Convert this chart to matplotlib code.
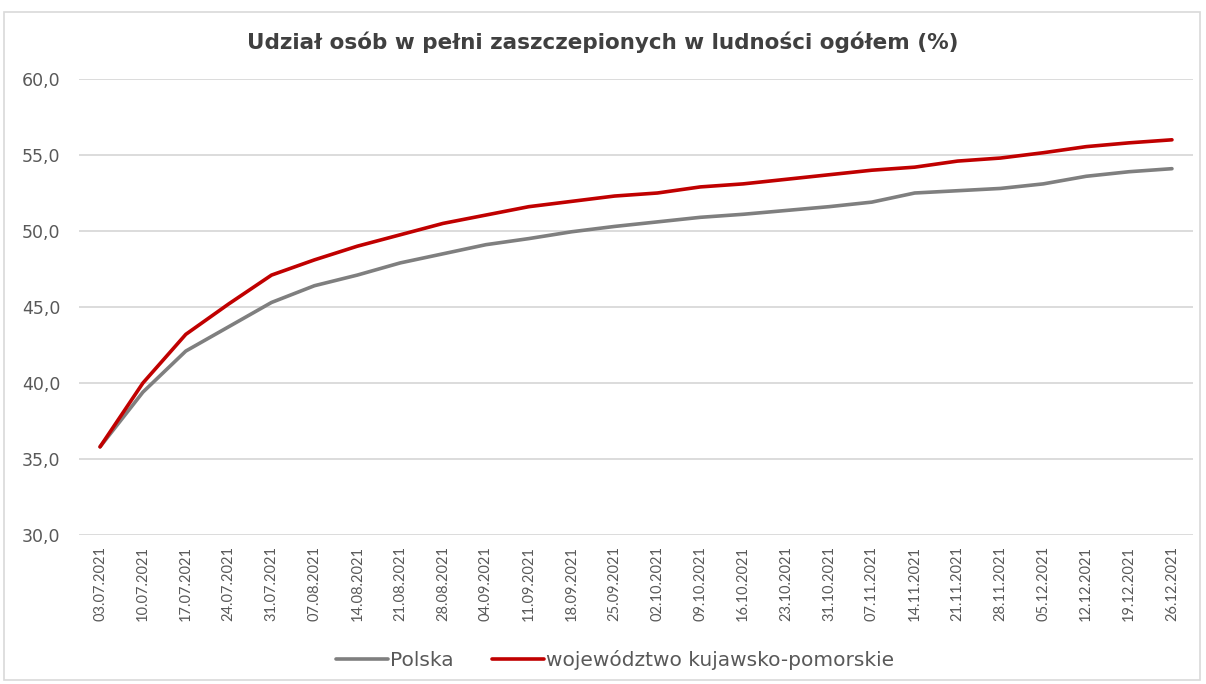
import numpy as np
import matplotlib
matplotlib.use('Agg')
import matplotlib.pyplot as plt
from matplotlib.patches import Rectangle

dates = ['03.07.2021', '10.07.2021', '17.07.2021', '24.07.2021', '31.07.2021',
         '07.08.2021', '14.08.2021', '21.08.2021', '28.08.2021', '04.09.2021',
         '11.09.2021', '18.09.2021', '25.09.2021', '02.10.2021', '09.10.2021',
         '16.10.2021', '23.10.2021', '31.10.2021', '07.11.2021', '14.11.2021',
         '21.11.2021', '28.11.2021', '05.12.2021', '12.12.2021', '19.12.2021',
         '26.12.2021']
polska = [35.8, 39.4, 42.1, 43.7, 45.3, 46.4, 47.1, 47.9, 48.5, 49.1,
          49.5, 49.95, 50.3, 50.6, 50.9, 51.1, 51.35, 51.6, 51.9, 52.5,
          52.65, 52.8, 53.1, 53.6, 53.9, 54.1]
kuj_pom = [35.8, 40.0, 43.2, 45.2, 47.1, 48.1, 49.0, 49.75, 50.5, 51.05,
           51.6, 51.95, 52.3, 52.5, 52.9, 53.1, 53.4, 53.7, 54.0, 54.2,
           54.6, 54.8, 55.15, 55.55, 55.8, 56.0]

plt.rcParams['font.family'] = ['Lato', 'DejaVu Sans']
wide = ['DejaVu Sans']

fig = plt.figure(figsize=(12.06, 6.84), dpi=100)
fig.patches.append(Rectangle((4/1206, 4/684), 1196/1206, 668/684, transform=fig.transFigure,
                             fill=False, edgecolor='#d9d9d9', linewidth=1.2))
ax = fig.add_axes([78.6/1206, 1 - 535/684, (1193.4 - 78.6)/1206, (535 - 79)/684])

x = np.arange(len(dates))
ax.plot(x, polska, color='#7f7f7f', linewidth=2.6, label='Polska', solid_capstyle='round')
ax.plot(x, kuj_pom, color='#c00000', linewidth=2.6, label='województwo kujawsko-pomorskie',
        solid_capstyle='round')

ax.set_xlim(-0.5, len(dates) - 0.5)
ax.set_ylim(30, 60)
yt = np.arange(30, 61, 5)
ax.set_yticks(yt)
ax.set_yticklabels([f'{v:.1f}'.replace('.', ',') for v in yt], color='#595959', fontsize=12.5,
                   family=wide)
ax.set_xticks(x)
ax.set_xticklabels(dates, rotation=90, color='#595959', fontsize=10.5)
ax.tick_params(axis='both', length=0)
ax.tick_params(axis='y', pad=13)
ax.tick_params(axis='x', pad=8)
ax.grid(axis='y', color='#d9d9d9', linewidth=1.3)
ax.set_axisbelow(True)
for s in ax.spines.values():
    s.set_visible(False)

fig.text(0.5, 1 - 42/684, 'Udział osób w pełni zaszczepionych w ludności ogółem (%)',
         ha='center', va='center', fontsize=15.5, fontweight='bold', color='#404040',
         family=wide)

fig.legend(loc='center', bbox_to_anchor=(0.51, 1 - 660/684), ncol=2, frameon=False,
           prop={'family': wide, 'size': 14.5}, handlelength=2.6, handletextpad=0.1,
           columnspacing=1.9, labelcolor='#595959')

fig.savefig('out.png', dpi=100)
